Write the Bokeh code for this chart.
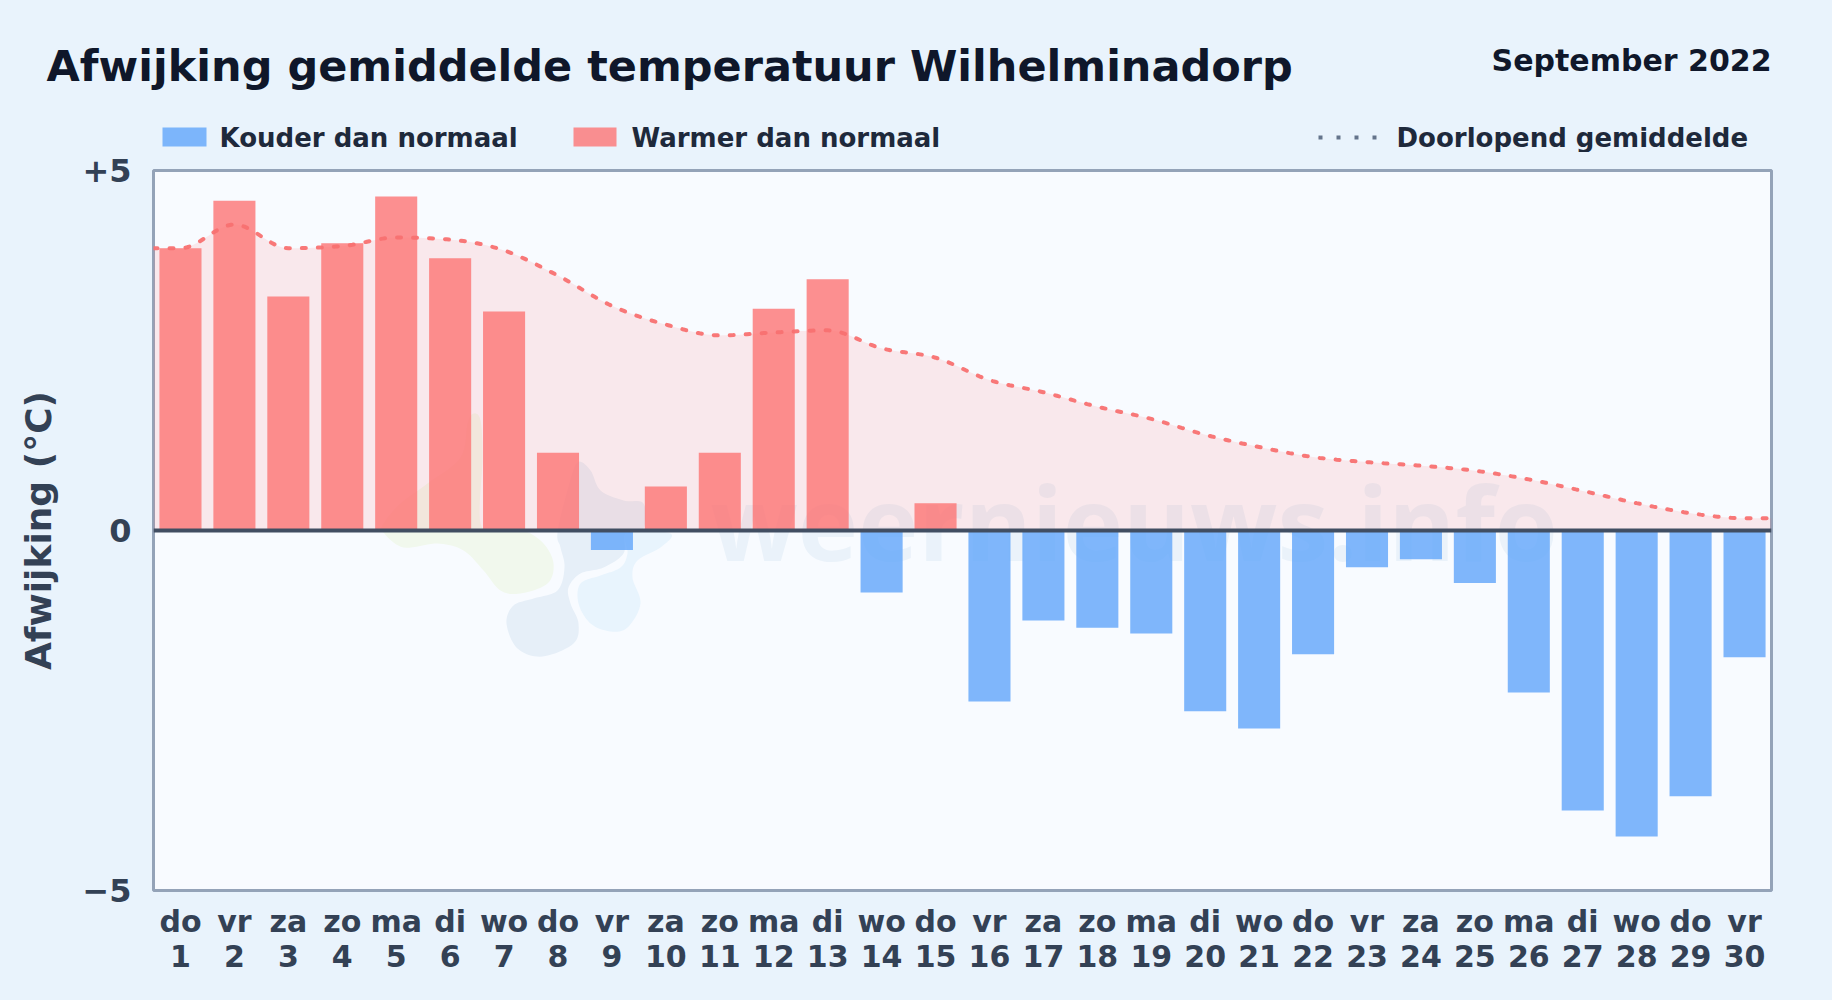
from bokeh.plotting import figure
from bokeh.layouts import column
from bokeh.embed import file_html
from bokeh.resources import INLINE
from bokeh.models import Span, Range1d, FixedTicker
from bokeh.core.properties import value
import numpy as np

weekdays = ["do","vr","za","zo","ma","di","wo","do","vr","za","zo","ma","di","wo","do",
            "vr","za","zo","ma","di","wo","do","vr","za","zo","ma","di","wo","do","vr"]
days = list(range(1, 31))
deviation = [3.92,4.58,3.25,3.99,4.64,3.78,3.04,1.08,-0.27,0.61,1.08,3.08,3.49,-0.86,0.38,
             -2.375,-1.25,-1.35,-1.43,-2.51,-2.75,-1.72,-0.51,-0.40,-0.73,-2.25,-3.89,-4.25,-3.69,-1.76]
running_mean = [3.92,4.25,3.92,3.95,4.07,4.04,3.89,3.54,3.12,2.86,2.71,2.75,2.78,2.53,2.40,
                2.09,1.92,1.72,1.55,1.33,1.16,1.02,0.95,0.90,0.83,0.71,0.55,0.38,0.24,0.17]
y_ticks = [-5, 0, 5]
y_tick_labels = {-5: "\u22125", 0: "0", 5: "+5"}

FONT = "DejaVu Sans"
PAGE = "#e9f3fc"
RED = "#fd7474"
BLUE = "#60a5fa"
L, T, R, B = 153, 170, 1771, 890   # frame in page pixels
W, H = 1832, 1000
HEAD = 152


def monotone_curve(xs, ys, per=16):
    """Monotone cubic through the read points, so the line is smooth like the original."""
    xs, ys = np.asarray(xs, float), np.asarray(ys, float)
    h = np.diff(xs)
    s = np.diff(ys) / h
    m = np.zeros_like(ys)
    for i in range(1, len(ys) - 1):
        if s[i - 1] * s[i] > 0:
            p_ = (s[i - 1] * h[i] + s[i] * h[i - 1]) / (h[i - 1] + h[i])
            m[i] = (np.sign(s[i - 1]) + np.sign(s[i])) * min(abs(s[i - 1]), abs(s[i]), 0.5 * abs(p_))
    m[0] = (3 * s[0] - m[1]) / 2
    m[-1] = (3 * s[-1] - m[-2]) / 2
    out_x, out_y = [], []
    for i in range(len(h)):
        t = np.linspace(0, 1, per, endpoint=False)
        a = 2*t**3 - 3*t**2 + 1
        b = t**3 - 2*t**2 + t
        c = -2*t**3 + 3*t**2
        d = t**3 - t**2
        out_x.extend(xs[i] + t * h[i])
        out_y.extend(a*ys[i] + b*h[i]*m[i] + c*ys[i+1] + d*h[i]*m[i+1])
    out_x.append(xs[-1]); out_y.append(ys[-1])
    return np.array(out_x), np.array(out_y)


def smooth_closed(points, per=10):
    """Closed Catmull-Rom outline for the faint logo blobs."""
    pts = np.asarray(points, float)
    n = len(pts)
    out = []
    for i in range(n):
        p0, p1, p2, p3 = pts[(i - 1) % n], pts[i], pts[(i + 1) % n], pts[(i + 2) % n]
        for t in np.linspace(0, 1, per, endpoint=False):
            out.append(0.5 * ((2 * p1) + (p2 - p0) * t + (2*p0 - 5*p1 + 4*p2 - p3) * t**2
                              + (3*p1 - p0 - 3*p2 + p3) * t**3))
    return np.array(out)


# ---------- header: title and legend ----------
head = figure(width=W, height=HEAD, output_backend="svg", toolbar_location=None,
              x_range=Range1d(0, W), y_range=Range1d(HEAD, 0),
              x_axis_type=None, y_axis_type=None, frame_align=False,
              min_border=0, min_border_left=0, min_border_right=0, min_border_top=0, min_border_bottom=0,
              background_fill_color=PAGE, border_fill_color=PAGE, outline_line_color=None)
head.grid.visible = False


def text(txt, px, py, size, color, align="left"):
    head.text([px], [py], text=[txt], text_font=value(FONT), text_font_style="bold",
              text_font_size=size, text_color=color, text_align=align, text_baseline="middle")


text("Afwijking gemiddelde temperatuur Wilhelminadorp", 46, 65, "43px", "#0f172a")
text("September 2022", 1771, 60, "30px", "#0f172a", align="right")
head.quad(left=[162], right=[206], top=[127], bottom=[146], fill_color=BLUE, fill_alpha=0.8, line_color=None)
text("Kouder dan normaal", 219, 137, "26px", "#1e293b")
head.quad(left=[573], right=[616], top=[127], bottom=[146], fill_color=RED, fill_alpha=0.8, line_color=None)
text("Warmer dan normaal", 631, 137, "26px", "#1e293b")
head.line([1318, 1378], [137, 137], line_color="#64748b", line_width=4, line_dash="4 14")
text("Doorlopend gemiddelde", 1396, 137, "26px", "#1e293b")

# ---------- main plot ----------
p = figure(width=W, height=H - HEAD, output_backend="svg", toolbar_location=None,
           x_range=Range1d(0.5, 30.5), y_range=Range1d(-5, 5), frame_align=False,
           min_border_left=L, min_border_right=W - R,
           min_border_top=T - HEAD, min_border_bottom=H - B,
           background_fill_color="#f8fbff", border_fill_color=PAGE)
p.grid.visible = False
p.outline_line_color = "#94a3b8"
p.outline_line_width = 3


def dx(px):
    return 0.5 + (np.asarray(px, float) - L) / (R - L) * 30


def dy(py):
    return 5 - (np.asarray(py, float) - T) / (B - T) * 10


# faint logo and watermark behind everything (outline in reference pixels)
logo_green = [(383,532),(403,547),(437,543),(463,550),(483,570),(500,590),(520,593),(547,583),
              (553,563),(543,543),(523,530),(500,530),(480,523),(482,457),(480,420),(473,413),
              (467,423),(460,457),(427,483),(400,503),(383,523)]
logo_grey = [(557,532),(567,490),(577,462),(590,470),(600,490),(623,500),(643,503),(643,528),(625,533),
             (623,553),(603,567),(580,573),(568,587),(570,603),(578,623),(573,643),(542,656),
             (517,648),(506,623),(513,605),(533,598),(557,590),(564,567),(560,547)]
logo_light = [(627,532),(670,533),(660,547),(637,560),(632,577),(640,603),(627,627),(610,631),
              (590,623),(578,603),(580,583),(600,575),(620,567),(627,553)]
for pts, col in [(logo_green, "#f1f8ed"), (logo_grey, "#e6eff8"), (logo_light, "#e8f4fd")]:
    o = smooth_closed(pts)
    p.patch(dx(o[:, 0]), dy(o[:, 1]), fill_color=col, line_color=None)
p.text([dx(710)], [dy(521)], text=["weernieuws.info"], text_font=value("Open Sans"),
       text_font_style="bold", text_font_size="102px", text_color="#eaf2fa", text_baseline="alphabetic")

# area under running mean
cx, cy = monotone_curve([0.5] + days + [30.5], [running_mean[0]] + running_mean + [running_mean[-1]])
p.varea(cx, 0 * cy, cy, fill_color="#ff7070", fill_alpha=0.13)

# bars
bar_colors = [RED if v >= 0 else BLUE for v in deviation]
p.vbar(x=days, top=deviation, bottom=0, width=0.78, fill_color=bar_colors, fill_alpha=0.8, line_color=None)

# running mean line
p.line(cx, cy, line_color="#f87171", line_width=4, line_dash="4 12", line_cap="round", line_alpha=0.95)

# zero line
p.add_layout(Span(location=0, dimension="width", line_color="#414e62", line_width=4))

# axes
xa = p.xaxis[0]
xa.ticker = FixedTicker(ticks=days)
xa.major_label_overrides = {d: f"{w}\n{d}" for d, w in zip(days, weekdays)}
xa.major_tick_line_color = None
xa.minor_tick_line_color = None
xa.axis_line_color = None
xa.major_label_text_font = FONT
xa.major_label_text_font_style = "bold"
xa.major_label_text_font_size = "30px"
xa.major_label_text_color = "#334155"
xa.major_label_text_line_height = 1.0
xa.major_label_standoff = 7

ya = p.yaxis[0]
ya.ticker = FixedTicker(ticks=y_ticks)
ya.major_label_overrides = y_tick_labels
ya.major_tick_line_color = None
ya.minor_tick_line_color = None
ya.axis_line_color = None
ya.major_label_text_font = FONT
ya.major_label_text_font_style = "bold"
ya.major_label_text_font_size = "32px"
ya.major_label_text_color = "#334155"
ya.major_label_standoff = 16
ya.axis_label = "Afwijking (\u00b0C)"
ya.axis_label_text_font = FONT
ya.axis_label_text_font_style = "bold"
ya.axis_label_text_font_size = "36px"
ya.axis_label_text_color = "#334155"
ya.axis_label_standoff = 20

layout = column(head, p, spacing=0)
html = file_html(layout, INLINE)
html = html.replace("<head>", f"<head><style>html,body{{background:{PAGE};}}</style>", 1)
open("out.html", "w").write(html)
